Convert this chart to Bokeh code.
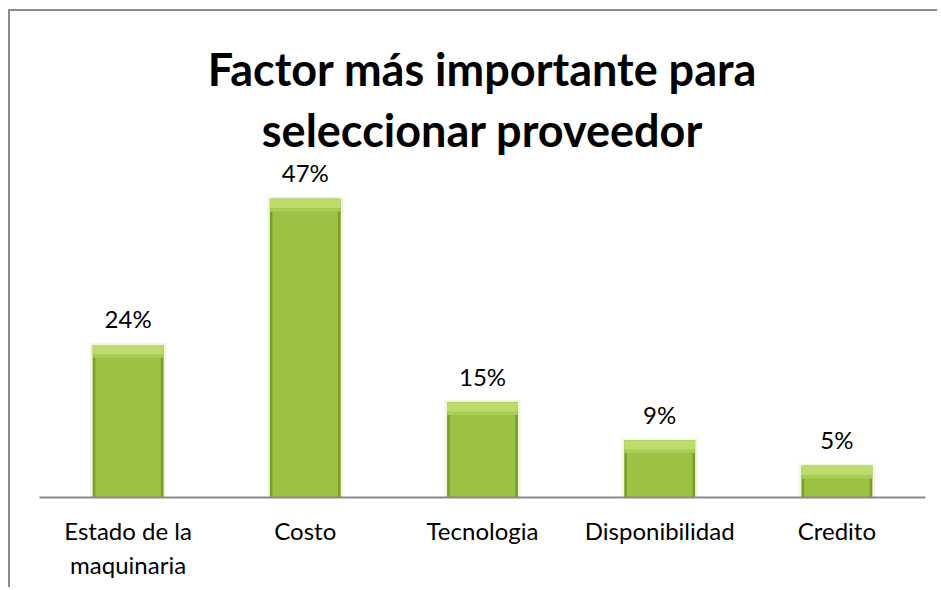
from bokeh.plotting import figure
from bokeh.models import Title, ColumnDataSource, FactorRange, Range1d
from bokeh.embed import file_html
from bokeh.resources import INLINE
from bokeh.core.properties import value
from bokeh.transform import dodge

# ---- data ----
categories = ["Estado de la\nmaquinaria", "Costo", "Tecnologia", "Disponibilidad", "Credito"]
values = [24, 47, 15, 9, 5]
value_labels = ["24%", "47%", "15%", "9%", "5%"]
title_line1 = "Factor más importante para"
title_line2 = "seleccionar proveedor"

src = ColumnDataSource(dict(cat=categories, val=values, lab=value_labels))

FONT = "Lato"

p = figure(
    x_range=FactorRange(factors=categories, range_padding=0),
    y_range=Range1d(0, 53.5),
    width=929, height=578,
    output_backend="svg", toolbar_location=None,
    y_axis_location=None,
    title=title_line1,
    min_border_left=29, min_border_right=14,
    min_border_top=146, min_border_bottom=92,
)
p.styles = {"margin-left": "8px", "margin-top": "9px",
            "border-left": "2px solid #8a8a8a", "border-top": "2px solid #8a8a8a"}

p.title.text_font = FONT
p.title.text_font_size = "45px"
p.title.text_font_style = "bold"
p.title.text_color = "#000000"
p.title.align = "center"

t2 = Title(text=title_line2, align="center", text_font=FONT, text_font_size="45px",
           text_font_style="bold", text_color="#000000", standoff=1)
p.add_layout(t2, "above")

p.outline_line_color = None
p.xgrid.grid_line_color = None
p.ygrid.grid_line_color = None
p.background_fill_color = "white"
p.border_fill_color = "white"

# bars: soft halo, body, inner highlight, top bevel
p.vbar(x="cat", top=dodge("val", 0.3), width=0.43, source=src,
       fill_color="#F1F7DC", line_color=None)
p.vbar(x="cat", top="val", width=0.4, source=src,
       fill_color="#7A9E2A", line_color=None)
p.vbar(x="cat", top="val", width=0.37, source=src,
       fill_color="#9BC242", line_color=None)
p.vbar(x="cat", top="val", bottom=dodge("val", -1.5), width=0.4, source=src,
       fill_color="#BCDC6E", line_color=None)
p.vbar(x="cat", top=dodge("val", -1.5), bottom=dodge("val", -2.0), width=0.4, source=src,
       fill_color="#A9CD55", line_color=None)

p.text(x="cat", y="val", text="lab", source=src, y_offset=-26,
       text_align="center", text_baseline="alphabetic",
       text_font=value(FONT), text_font_size="24px", text_color="#000000")

ax = p.xaxis[0]
ax.axis_line_color = "#898989"
ax.axis_line_width = 2
ax.major_tick_line_color = None
ax.minor_tick_line_color = None
ax.major_tick_out = 0
ax.major_tick_in = 0
ax.major_label_standoff = 18
ax.major_label_text_font = FONT
ax.major_label_text_font_size = "24px"
ax.major_label_text_color = "#000000"
ax.major_label_text_line_height = 1.18

open("out.html", "w").write(file_html(p, INLINE))
